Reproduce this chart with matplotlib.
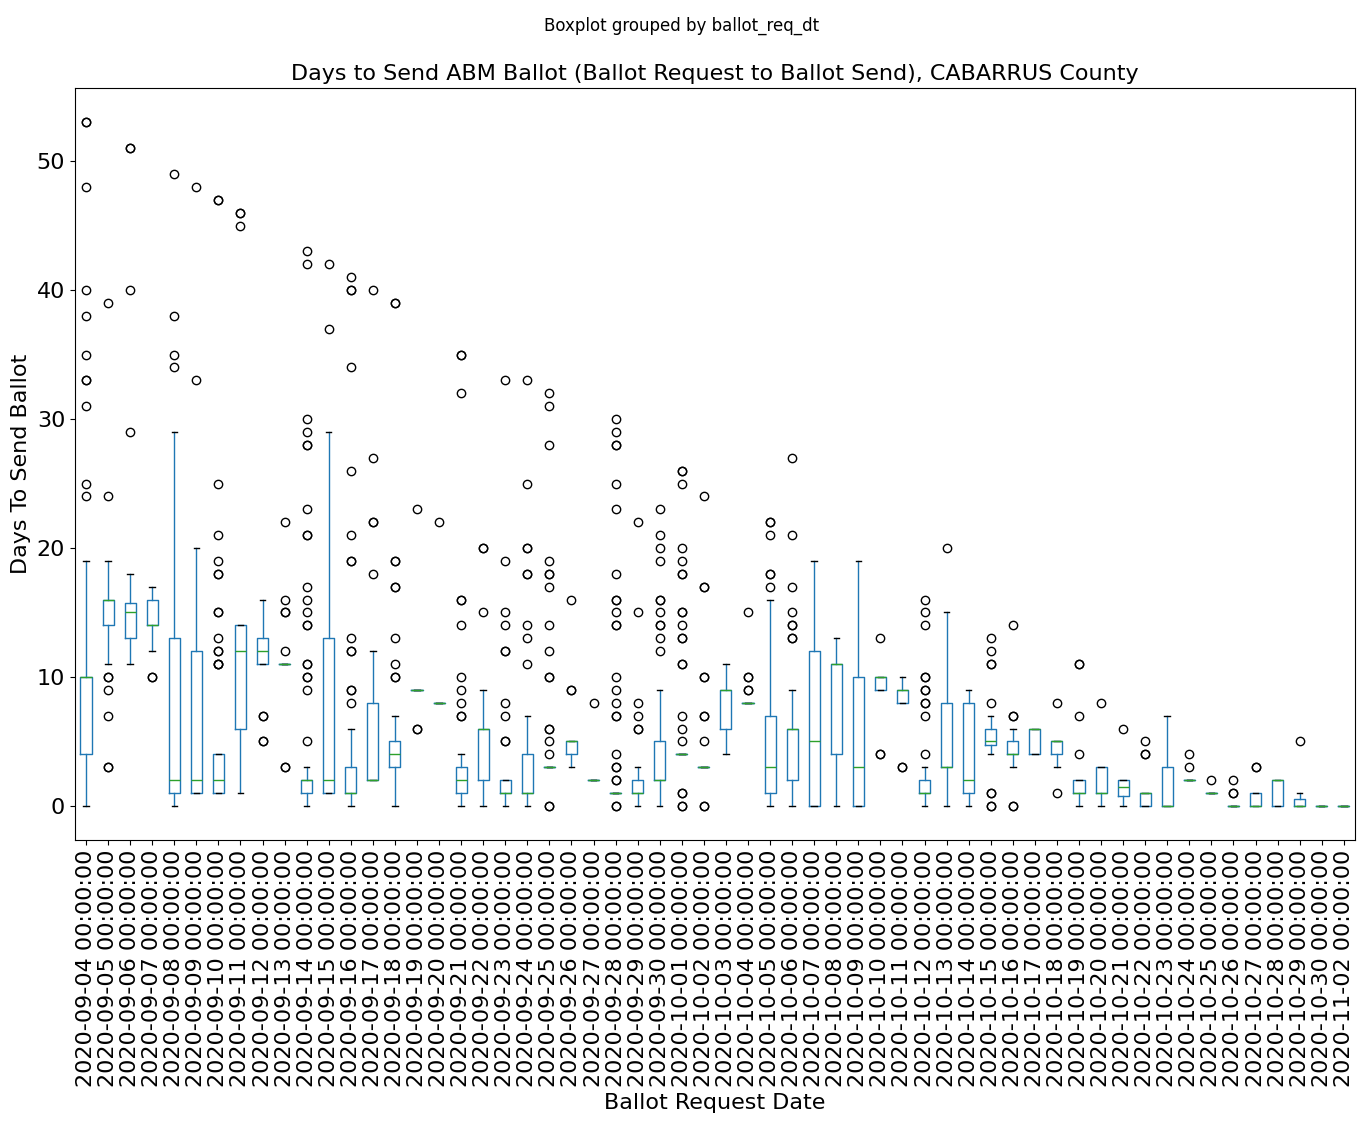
import matplotlib
matplotlib.use("Agg")
import matplotlib.pyplot as plt

DATES = [f"2020-09-{d:02d}" for d in range(4, 31)] + \
        [f"2020-10-{d:02d}" for d in range(1, 31)] + ["2020-11-02"]
TICK_LABELS = [f"{d} 00:00:00" for d in DATES]

# box statistics per request date
WHISLO = [0, 11, 11, 12, 0, 1, 1, 1, 11, 11, 0, 1, 0, 2, 0, 9, 8, 0, 0, 0, 0, 3, 3, 2, 1, 0, 0,
          4, 3, 4, 8, 0, 0, 0, 0, 0, 9, 8, 0, 0, 0, 4, 3, 4, 3, 0, 0, 0, 0, 0, 2, 1, 0, 0, 0, 0, 0, 0]
Q1 = [4, 14, 13, 14, 1, 1, 1, 6, 11, 11, 1, 1, 1, 2, 3, 9, 8, 1, 2, 1, 1, 3, 4, 2, 1, 1, 2,
      4, 3, 6, 8, 1, 2, 0, 4, 0, 9, 8, 1, 3, 1, 4.75, 4, 4, 4, 1, 1, 0.75, 0, 0, 2, 1, 0, 0, 0, 0, 0, 0]
MED = [10, 16, 15, 14, 2, 2, 2, 12, 12, 11, 2, 2, 1, 2, 4, 9, 8, 2, 6, 1, 1, 3, 5, 2, 1, 1, 2,
       4, 3, 9, 8, 3, 6, 5, 11, 3, 10, 9, 1, 3, 2, 5, 4, 6, 5, 1, 1, 1.5, 1, 0, 2, 1, 0, 0, 2, 0, 0, 0]
Q3 = [10, 16, 15.75, 16, 13, 12, 4, 14, 13, 11, 2, 13, 3, 8, 5, 9, 8, 3, 6, 2, 4, 3, 5, 2, 1, 2, 5,
      4, 3, 9, 8, 7, 6, 12, 11, 10, 10, 9, 2, 8, 8, 6, 5, 6, 5, 2, 3, 2, 1, 3, 2, 1, 0, 1, 2, 0.5, 0, 0]
WHISHI = [19, 19, 18, 17, 29, 20, 4, 14, 16, 11, 3, 29, 6, 12, 7, 9, 8, 4, 9, 2, 7, 3, 5, 2, 1, 3, 9,
          4, 3, 11, 8, 16, 9, 19, 13, 19, 10, 10, 3, 15, 9, 7, 6, 6, 5, 2, 3, 2, 1, 7, 2, 1, 0, 1, 2, 1, 0, 0]
FLIERS = [
    [24, 25, 31, 33, 33, 35, 38, 40, 48, 53, 53],
    [3, 3, 7, 9, 10, 10, 24, 39],
    [29, 40, 51, 51],
    [10, 10],
    [34, 35, 38, 49],
    [33, 48],
    [11, 11, 11, 12, 12, 13, 15, 15, 18, 18, 19, 21, 25, 47, 47],
    [45, 46, 46],
    [5, 5, 7, 7],
    [3, 3, 12, 15, 15, 16, 22],
    [5, 9, 10, 10, 11, 11, 14, 14, 15, 16, 17, 21, 21, 23, 28, 28, 29, 30, 42, 43],
    [37, 42],
    [8, 9, 9, 12, 12, 13, 19, 19, 21, 26, 34, 40, 40, 41],
    [18, 22, 22, 27, 40],
    [10, 10, 11, 13, 17, 17, 19, 19, 39, 39],
    [6, 6, 23],
    [22],
    [7, 7, 8, 9, 10, 14, 16, 16, 32, 35, 35],
    [15, 20, 20],
    [5, 5, 7, 8, 12, 12, 14, 15, 19, 33],
    [11, 13, 14, 18, 18, 20, 20, 25, 33],
    [0, 0, 4, 5, 6, 6, 10, 10, 12, 14, 17, 18, 18, 19, 28, 31, 32],
    [9, 9, 16],
    [8],
    [0, 0, 2, 2, 3, 3, 4, 7, 7, 8, 9, 10, 14, 14, 15, 16, 16, 18, 23, 25, 28, 28, 29, 30],
    [6, 6, 7, 8, 15, 22],
    [12, 13, 14, 14, 15, 16, 16, 19, 20, 21, 23],
    [0, 0, 1, 1, 5, 6, 7, 11, 11, 13, 13, 14, 15, 15, 18, 18, 19, 20, 25, 26, 26],
    [0, 0, 5, 7, 7, 10, 10, 17, 17, 24],
    [],
    [9, 9, 10, 10, 15],
    [17, 18, 18, 21, 22, 22],
    [13, 13, 14, 14, 15, 17, 21, 27],
    [],
    [],
    [],
    [4, 4, 13],
    [3, 3],
    [4, 7, 8, 8, 9, 9, 10, 10, 14, 15, 16],
    [20],
    [],
    [0, 0, 1, 1, 8, 11, 11, 12, 13],
    [0, 0, 7, 7, 14],
    [],
    [1, 8],
    [4, 7, 11, 11],
    [8],
    [6],
    [4, 4, 5],
    [],
    [3, 4],
    [2],
    [1, 1, 2],
    [3, 3],
    [],
    [5],
    [],
    [],
]

stats = []
for i in range(len(DATES)):
    stats.append(dict(whislo=WHISLO[i], q1=Q1[i], med=MED[i], q3=Q3[i],
                      whishi=WHISHI[i], fliers=FLIERS[i]))

fig = plt.figure(figsize=(13.63, 11.22), dpi=100)
ax = fig.add_axes([0.055, 0.2513, 0.939, 0.670])

blue = "#1f77b4"
ax.bxp(stats, positions=range(1, len(DATES) + 1), widths=0.5,
       boxprops=dict(color=blue), whiskerprops=dict(color=blue),
       capprops=dict(color="black"), medianprops=dict(color="#2ca02c"),
       flierprops=dict(marker="o", markerfacecolor="none", markeredgecolor="black"))

ax.set_xticks(range(1, len(DATES) + 1))
ax.set_xticklabels(TICK_LABELS, rotation=90, fontsize=16)
ax.tick_params(axis="y", labelsize=16)
ax.set_xlim(0.5, len(DATES) + 0.5)
ax.set_xlabel("Ballot Request Date", fontsize=16)
ax.set_ylabel("Days To Send Ballot", fontsize=16)
ax.set_title("Days to Send ABM Ballot (Ballot Request to Ballot Send), CABARRUS County", fontsize=16)
fig.suptitle("Boxplot grouped by ballot_req_dt", fontsize=12, y=0.985)

fig.savefig("out.png", dpi=100)
